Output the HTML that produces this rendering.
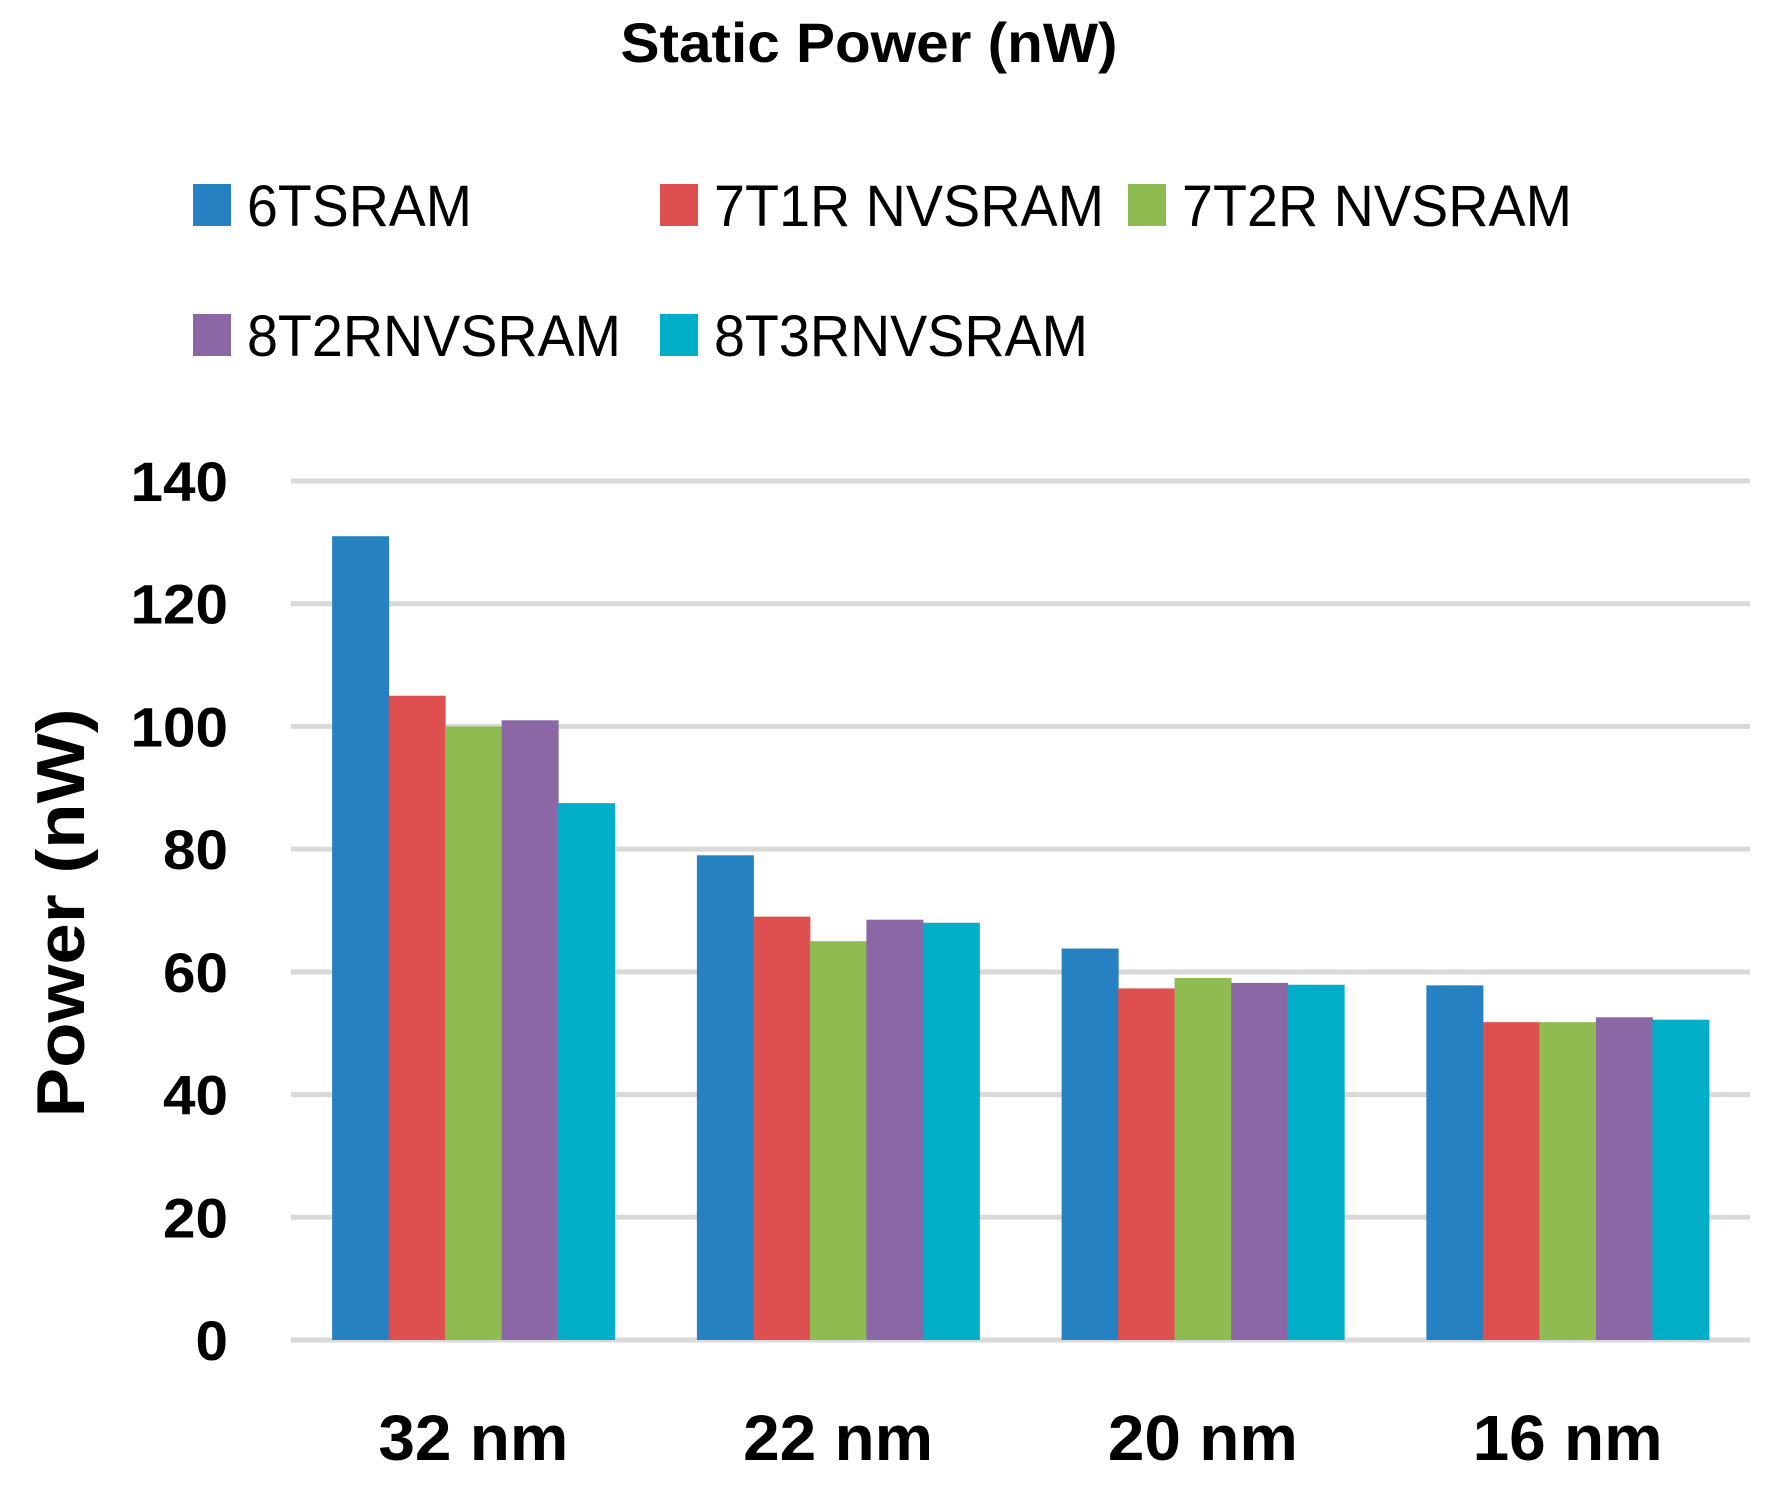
<!DOCTYPE html>
<html><head><meta charset="utf-8"><style>
html,body{margin:0;padding:0;background:#fff;}
svg{display:block;font-family:"Liberation Sans",sans-serif;}
</style></head><body>
<svg id="chart" width="1770" height="1485" viewBox="0 0 1770 1485" xmlns="http://www.w3.org/2000/svg">
<text x="869" y="62" text-anchor="middle" font-size="56" font-weight="bold" textLength="497" lengthAdjust="spacingAndGlyphs">Static Power (nW)</text>
<g id="legend"></g>
<g id="grid"></g>
<g id="bars"></g>
<g id="yticks"></g>
<g id="xticks"></g>
<text transform="translate(84,913) rotate(-90)" text-anchor="middle" font-size="68" font-weight="bold" textLength="409" lengthAdjust="spacingAndGlyphs">Power (nW)</text>
</svg>
<script>
const categories = ["32 nm", "22 nm", "20 nm", "16 nm"];
const seriesNames = ["6TSRAM", "7T1R NVSRAM", "7T2R NVSRAM", "8T2RNVSRAM", "8T3RNVSRAM"];
const s6TSRAM = [131, 79, 63.8, 57.8];
const s7T1R = [105, 69, 57.3, 51.8];
const s7T2R = [100, 65, 59, 51.8];
const s8T2R = [101, 68.5, 58.2, 52.6];
const s8T3R = [87.5, 68, 57.9, 52.2];
const yTicks = [0, 20, 40, 60, 80, 100, 120, 140];

const series = [s6TSRAM, s7T1R, s7T2R, s8T2R, s8T3R];
const colors = ["#2581c1", "#de4f4f", "#8fbc50", "#8c67a6", "#00aec7"];
const NS = "http://www.w3.org/2000/svg";
const plotL = 291, plotR = 1750, y0 = 1340, yTop = 481, yMax = 140;
const yScale = v => y0 - (v / yMax) * (y0 - yTop);
const catW = (plotR - plotL) / categories.length;
const barW = 56.5;
const groupOff = (catW - barW * series.length) / 2;
const xBar = (ci, si) => plotL + ci * catW + groupOff + si * barW;
function mk(tag, attrs, parent, txt) {
  const e = document.createElementNS(NS, tag);
  for (const k in attrs) e.setAttribute(k, attrs[k]);
  if (txt !== undefined) e.textContent = txt;
  parent.appendChild(e);
  return e;
}
const grid = document.getElementById('grid');
const yt = document.getElementById('yticks');
yTicks.forEach(t => {
  const l = mk('line', {x1: plotL, x2: plotR, y1: yScale(t), y2: yScale(t), stroke: '#d9d9d9', 'stroke-width': 5}, grid);
  
  
  const s = String(t);
  const tx = mk('text', {x: 228, y: yScale(t) + 20, 'text-anchor': 'end', 'font-size': 56, 'font-weight': 'bold', textLength: s.length * 32.5, lengthAdjust: 'spacingAndGlyphs'}, yt, s);
  
  
});
const bars = document.getElementById('bars');
series.forEach((s, si) => {
  s.forEach((v, ci) => {
    const r = mk('rect', {x: xBar(ci, si), y: yScale(v), width: barW + 0.5, height: y0 - yScale(v), fill: colors[si]}, bars);
    
    
  });
});
const xt = document.getElementById('xticks');
categories.forEach((c, ci) => {
  const tx = mk('text', {x: plotL + ci * catW + catW / 2, y: 1460, 'text-anchor': 'middle', 'font-size': 64, 'font-weight': 'bold', textLength: 190, lengthAdjust: 'spacingAndGlyphs'}, xt, c);
  
  
});
const lg = document.getElementById('legend');
const legPos = [[193, 205], [660, 205], [1128, 205], [193, 335], [660, 335]];
const legW = [225, 390, 390, 374, 374];
seriesNames.forEach((n, i) => {
  const g = mk('g', {}, lg);
  
  
  mk('rect', {x: legPos[i][0], y: legPos[i][1] - 21, width: 38, height: 42, fill: colors[i]}, g);
  mk('text', {x: legPos[i][0] + 54, y: legPos[i][1] + 21, 'font-size': 58, textLength: legW[i], lengthAdjust: 'spacingAndGlyphs'}, g, n);
});
</script>
</body></html>
